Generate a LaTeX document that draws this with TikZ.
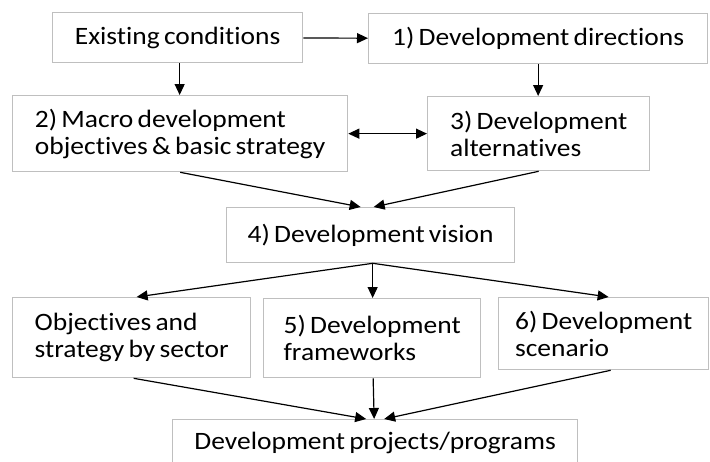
\documentclass[tikz,border=0pt]{standalone}
\usepackage{fontspec}
\setmainfont{Carlito}[FakeStretch=1.1,Ligatures=NoCommon]
\usetikzlibrary{arrows.meta,positioning}
\newcommand\stagefont{\fontsize{25}{27}\selectfont\spaceskip=0.17em plus 0.05em\relax}
\tikzset{
  stage/.style={rectangle,draw=black!25,line width=1.3pt,anchor=north west,
                inner sep=0pt,align=left,font=\stagefont},
  arr/.style  ={-{Triangle[length=11pt,width=10pt]},line width=1.2pt},
  biarr/.style={{Triangle[length=11pt,width=10pt]}-{Triangle[length=11pt,width=10pt]},line width=1.2pt}
}
\begin{document}
\begin{tikzpicture}[x=1pt,y=-1pt]
  \useasboundingbox (0,0) rectangle (710,461);
  % Nodes
  \node (exist)  [stage, minimum width=250pt, minimum height=50pt] at (52,12)   {Existing conditions};
  \node (dirs)   [stage, minimum width=339pt, minimum height=50pt] at (368,13)  {1) Development directions};
  \node (macro)  [stage, minimum width=335pt, minimum height=76pt] at (12,95)   {2) Macro development\\objectives \& basic strategy};
  \node (alts)   [stage, minimum width=222pt, minimum height=74pt] at (427,96)  {3) Development\\alternatives};
  \node (vision) [stage, minimum width=288pt, minimum height=55pt] at (226,207) {4) Development vision};
  \node (sector) [stage, minimum width=238pt, minimum height=80pt] at (12,297)  {Objectives and\\strategy by sector};
  \node (frame)  [stage, minimum width=217pt, minimum height=79pt] at (263,298) {5) Development\\frameworks};
  \node (scen)   [stage, minimum width=210pt, minimum height=72pt] at (498,297) {6) Development\\scenario};
  \node (proj)   [stage, minimum width=405pt, minimum height=46pt] at (172,419) {Development projects/programs};

  % Arrows
  \draw [arr] (exist) -- (dirs);
  \draw [arr] ([xshift=2pt]exist.south) -- ([xshift=2pt]exist.south |- macro.north);
  \draw [arr] (dirs.south) -- (dirs.south |- alts.north);
  \draw [biarr] (macro.east) -- (alts.west);
  \draw [arr] (macro.south) -- ([xshift=-10pt]vision.north);
  \draw [arr] (alts.south) -- ([xshift=3pt]vision.north);
  \draw [arr] ([xshift=2pt]vision.south) -- ([xshift=5pt]sector.north);
  \draw [arr] ([xshift=2pt]vision.south) -- ([xshift=2pt]vision.south |- frame.north);
  \draw [arr] ([xshift=2pt]vision.south) -- ([xshift=5pt]scen.north);
  \draw [arr] ([xshift=2pt]sector.south) -- ([xshift=-9pt]proj.north);
  \draw [arr] ([xshift=1pt]frame.south) -- ([xshift=-1pt]proj.north);
  \draw [arr] ([xshift=7pt]scen.south) -- ([xshift=9pt]proj.north);
\end{tikzpicture}
\end{document}
